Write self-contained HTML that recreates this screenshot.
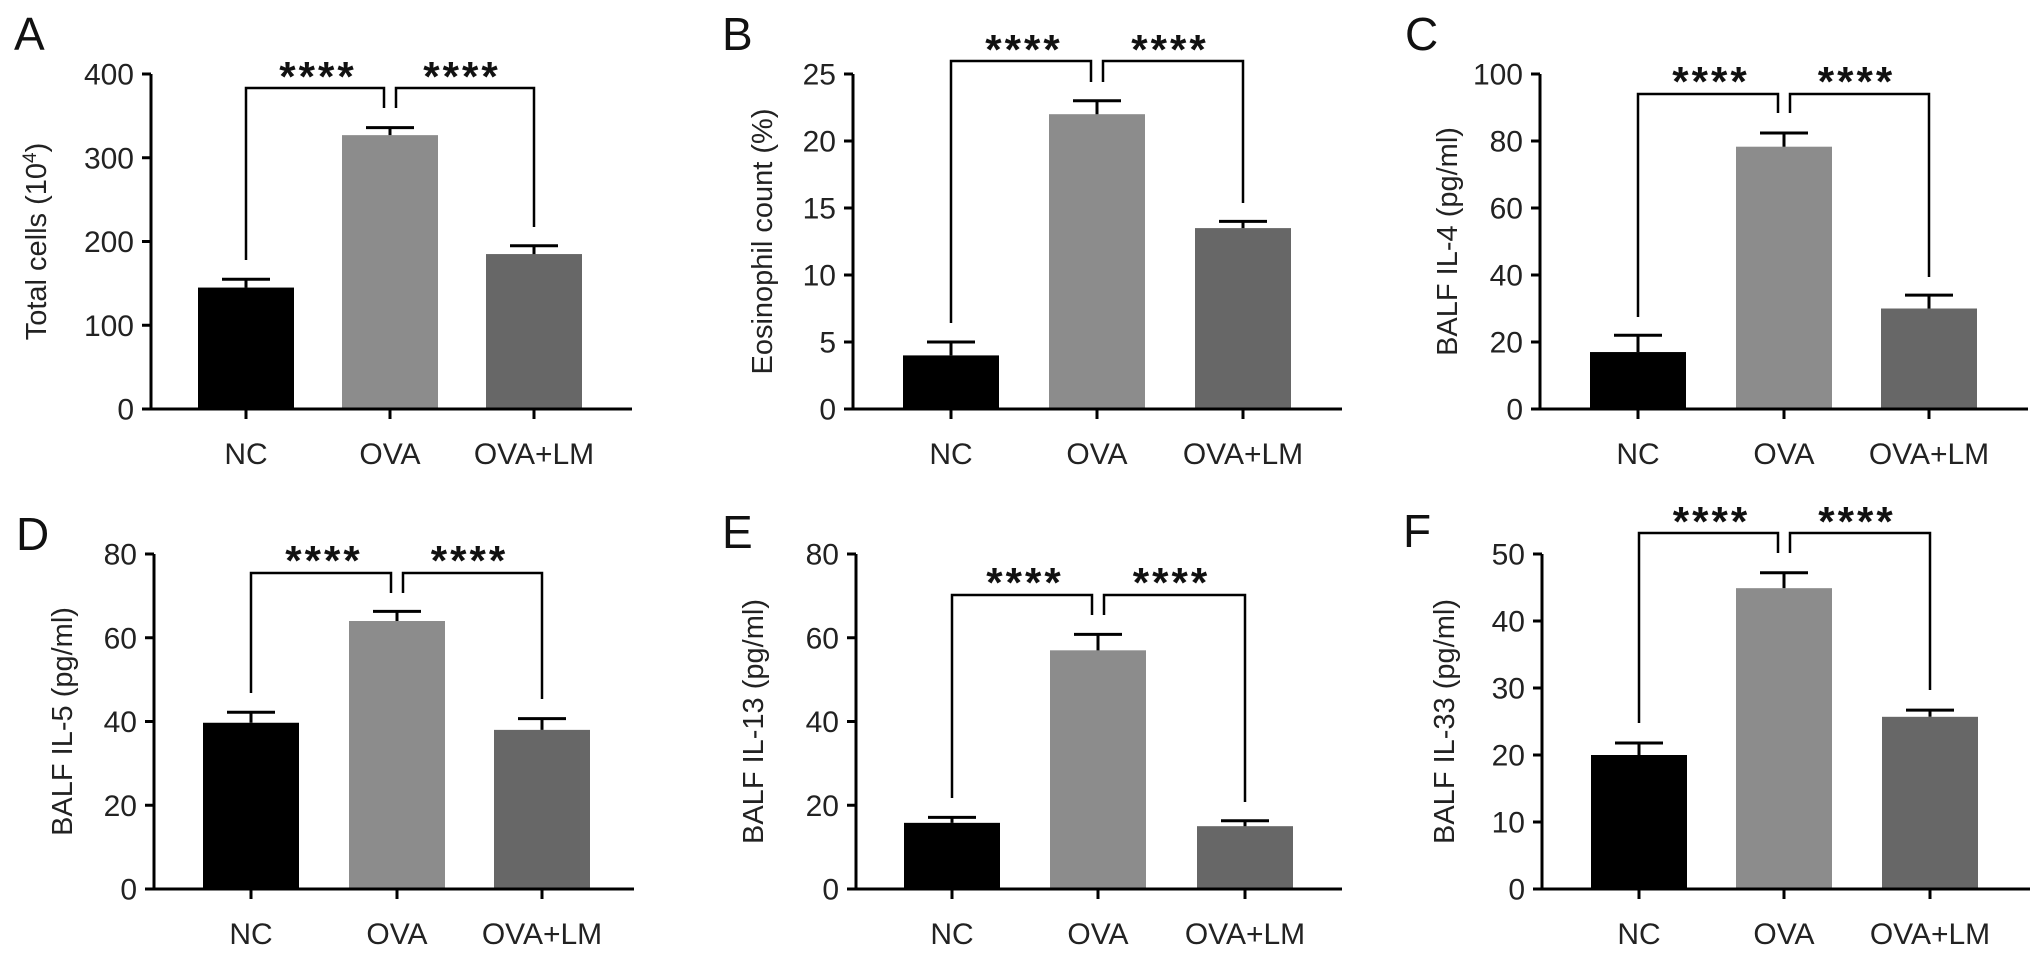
<!DOCTYPE html>
<html><head><meta charset="utf-8"><title>BALF bar charts</title>
<style>
html,body{margin:0;padding:0;background:#fff;}
svg{display:block;font-family:"Liberation Sans",Arial,sans-serif;}
</style></head>
<body>
<svg id="fig" width="2032" height="955" viewBox="0 0 2032 955" xmlns="http://www.w3.org/2000/svg"></svg>
<script>
const categories = ["NC", "OVA", "OVA+LM"];
const barColors = ["#000000", "#8c8c8c", "#676767"];

const meansA = [145, 327, 185];
const errsA = [155, 336, 195];
const ticksA = [0, 100, 200, 300, 400];

const meansB = [4.0, 22.0, 13.5];
const errsB = [5.0, 23.0, 14.0];
const ticksB = [0, 5, 10, 15, 20, 25];

const meansC = [17, 78.3, 30];
const errsC = [22, 82.4, 34];
const ticksC = [0, 20, 40, 60, 80, 100];

const meansD = [39.7, 64, 38];
const errsD = [42.2, 66.3, 40.7];
const ticksD = [0, 20, 40, 60, 80];

const meansE = [15.8, 57, 15];
const errsE = [17.1, 60.8, 16.3];
const ticksE = [0, 20, 40, 60, 80];

const meansF = [20, 44.9, 25.7];
const errsF = [21.8, 47.2, 26.7];
const ticksF = [0, 10, 20, 30, 40, 50];

const yTitles = ["Total cells (10<tspan baseline-shift='super' font-size='19'>4</tspan>)", "Eosinophil count (%)", "BALF IL-4 (pg/ml)", "BALF IL-5 (pg/ml)", "BALF IL-13 (pg/ml)", "BALF IL-33 (pg/ml)"];
const panelLetters = ["A", "B", "C", "D", "E", "F"];
const significance = ["****", "****"];

// layout (pixels), not data
const layouts = [
  {x0:151, x1:632, c:[246,390,534], top:74, zero:409, title:36, letter:[14,50], br:[88,260,108,227,67]},
  {x0:853, x1:1342, c:[951,1097,1243], top:74, zero:409, title:762, letter:[722,50], br:[61,323,82,203,40]},
  {x0:1540, x1:2028, c:[1638,1784,1929], top:74, zero:409, title:1447, letter:[1405,50], br:[94,317,113,277,72]},
  {x0:154, x1:634, c:[251,397,542], top:554, zero:889, title:62, letter:[16,550], br:[573,693,593,699,551]},
  {x0:856, x1:1342, c:[952,1098,1245], top:554, zero:889, title:753, letter:[722,548], br:[595,798,615,802,573]},
  {x0:1542, x1:2030, c:[1639,1784,1930], top:554, zero:889, title:1444, letter:[1403,547], br:[533,723,553,690,512]}
];
const allMeans = [meansA, meansB, meansC, meansD, meansE, meansF];
const allErrs = [errsA, errsB, errsC, errsD, errsE, errsF];
const allTicks = [ticksA, ticksB, ticksC, ticksD, ticksE, ticksF];

const NS = "http://www.w3.org/2000/svg";
const svg = document.getElementById("fig");
function mk(tag, attrs, parent) {
  const e = document.createElementNS(NS, tag);
  for (const k in attrs) e.setAttribute(k, attrs[k]);
  parent.appendChild(e);
  return e;
}

for (let p = 0; p < 6; p++) {
  const L = layouts[p], means = allMeans[p], errs = allErrs[p], ticks = allTicks[p];
  const yMax = ticks[ticks.length - 1];
  const y = v => L.zero - (v / yMax) * (L.zero - L.top);
  const g = mk("g", {}, svg);
  
  

  const letter = mk("text", {x: L.letter[0], y: L.letter[1], "font-size": 46, fill: "#111"}, g);
  letter.textContent = panelLetters[p];
  
  

  const bw = 96;
  for (let i = 0; i < 3; i++) {
    const r = mk("rect", {x: L.c[i] - bw / 2, y: y(means[i]), width: bw, height: L.zero - y(means[i]), fill: barColors[i]}, g);
    
    
    const eb = mk("path", {d: `M${L.c[i]} ${y(means[i])}V${y(errs[i])}M${L.c[i]-24} ${y(errs[i])}H${L.c[i]+24}`, stroke: "#000", "stroke-width": 3, fill: "none"}, g);
    
    
  }

  const ya = mk("path", {d: `M${L.x0} ${L.top}V${L.zero}`, stroke: "#000", "stroke-width": 3, fill: "none"}, g);
  
  
  const xa = mk("path", {d: `M${L.x0 - 9} ${L.zero}H${L.x1}`, stroke: "#000", "stroke-width": 3, fill: "none"}, g);
  
  

  for (const t of ticks) {
    mk("path", {d: `M${L.x0 - 9} ${y(t)}H${L.x0}`, stroke: "#000", "stroke-width": 3}, g);
    const tl = mk("text", {x: L.x0 - 17, y: y(t) + 10.5, "font-size": 30, "text-anchor": "end", fill: "#222"}, g);
    tl.textContent = t;
    
    
  }
  for (let i = 0; i < 3; i++) {
    mk("path", {d: `M${L.c[i]} ${L.zero}V${L.zero + 10}`, stroke: "#000", "stroke-width": 3}, g);
    const xl = mk("text", {x: L.c[i], y: L.zero + 55, "font-size": 30, "text-anchor": "middle", fill: "#222"}, g);
    xl.textContent = categories[i];
    
    
  }

  const cy = (L.top + L.zero) / 2;
  const yt = mk("text", {x: L.title, y: cy, "font-size": 29, "text-anchor": "middle", fill: "#222", transform: `rotate(-90 ${L.title} ${cy}) translate(0 10)`}, g);
  yt.innerHTML = yTitles[p];
  
  

  const [bt, ld, md, rd, sy] = L.br;
  const b1 = mk("path", {d: `M${L.c[0]} ${ld}V${bt}H${L.c[1] - 6}V${md}`, stroke: "#000", "stroke-width": 2.5, fill: "none"}, g);
  
  
  const b2 = mk("path", {d: `M${L.c[1] + 6} ${md}V${bt}H${L.c[2]}V${rd}`, stroke: "#000", "stroke-width": 2.5, fill: "none"}, g);
  
  
  const sx = [(L.c[0] + L.c[1]) / 2, (L.c[1] + L.c[2]) / 2];
  for (let k = 0; k < 2; k++) {
    const s = mk("text", {x: sx[k], y: sy + 24, "font-size": 42, "font-weight": "bold", "letter-spacing": 3, "text-anchor": "middle", fill: "#111"}, g);
    s.textContent = significance[k];
    
    
  }
}
</script>
</body></html>
